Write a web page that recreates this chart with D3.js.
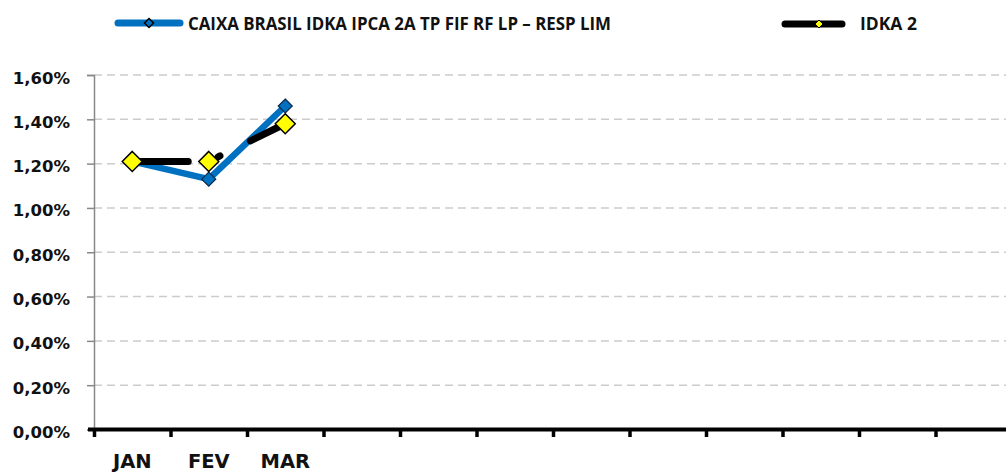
<!DOCTYPE html>
<html>
<head>
<meta charset="utf-8">
<script src="https://cdn.jsdelivr.net/npm/d3@7"></script>
<style>
  body { margin: 0; background: #fff; }
  svg { display: block; }
</style>
</head>
<body>
<div id="chart"></div>
<script>
const months = ["JAN", "FEV", "MAR", "ABR", "MAI", "JUN", "JUL", "AGO", "SET", "OUT", "NOV", "DEZ"];
const monthLabels = ["JAN", "FEV", "MAR", "", "", "", "", "", "", "", "", ""];
const caixaValues = [0.0121, 0.0113, 0.0146];
const idkaValues = [0.0121, 0.0121, 0.0138];
const yTicks = [0, 0.002, 0.004, 0.006, 0.008, 0.010, 0.012, 0.014, 0.016];
const seriesNames = ["CAIXA BRASIL IDKA IPCA 2A TP FIF RF LP \u2013 RESP LIM", "IDKA 2"];

const W = 1006, H = 473;
const plotLeft = 94, plotBottom = 429.5, plotTop = 75;

const svg = d3.select("#chart")
    .append("svg")
    .attr("width", W)
    .attr("height", H);

const x = d3.scaleBand()
    .domain(months)
    .range([plotLeft, plotLeft + 76.5 * 12]);
const y = d3.scaleLinear()
    .domain([0, 0.016])
    .range([plotBottom, plotTop]);

const fmt = d => d3.format(".2f")(d * 100).replace(".", ",") + "%";
const diamond = r => `M0,${-r}L${r},0L0,${r}L${-r},0Z`;

// gridlines
svg.append("g")
    .selectAll("line")
    .data(yTicks.slice(1))
    .enter()
    .append("line")
    .attr("x1", plotLeft)
    .attr("x2", W)
    .attr("y1", d => y(d))
    .attr("y2", d => y(d))
    .attr("stroke", "#cccccc")
    .attr("stroke-width", 1.5)
    .attr("stroke-dasharray", "8,5");

// y axis
const yAxis = svg.append("g")
    .attr("transform", `translate(${plotLeft},0)`)
    .call(d3.axisLeft(y).tickValues(yTicks).tickFormat(fmt).tickSize(7).tickPadding(17));
yAxis.select(".domain").attr("stroke", "#888888").attr("stroke-width", 1.5);
yAxis.selectAll(".tick line").attr("stroke", "#888888").attr("stroke-width", 1.5);
yAxis.selectAll("text")
    .attr("font-family", "DejaVu Sans")
    .attr("font-weight", "bold")
    .attr("font-size", "16.5px")
    .attr("fill", "#111")
    .attr("dy", null)
    .attr("y", 8);

// x axis line and boundary ticks
svg.append("line")
    .attr("x1", plotLeft - 6)
    .attr("x2", W)
    .attr("y1", plotBottom)
    .attr("y2", plotBottom)
    .attr("stroke", "#000")
    .attr("stroke-width", 4);
svg.append("g")
    .selectAll("line")
    .data(months)
    .enter()
    .append("line")
    .attr("x1", d => x(d) + 0.5)
    .attr("x2", d => x(d) + 0.5)
    .attr("y1", plotBottom)
    .attr("y2", plotBottom + 7.5)
    .attr("stroke", "#000")
    .attr("stroke-width", 3.5);

const xAxis = svg.append("g")
    .attr("transform", `translate(0,${plotBottom})`)
    .call(d3.axisBottom(x).tickSize(0).tickFormat((d, i) => monthLabels[i]));
xAxis.select(".domain").remove();
xAxis.selectAll("text")
    .attr("dy", null)
    .attr("y", 38)
    .attr("font-family", "DejaVu Sans")
    .attr("font-weight", "bold")
    .attr("font-size", "19.5px")
    .attr("fill", "#111");

const cx = (d, i) => x(months[i]) + x.bandwidth() / 2;
const line = d3.line().x(cx).y(d => y(d));

// CAIXA series
svg.append("path")
    .datum(caixaValues)
    .attr("d", line)
    .attr("fill", "none")
    .attr("stroke", "#0070C0")
    .attr("stroke-width", 6.5)
    .attr("stroke-linejoin", "round");
svg.append("g")
    .selectAll("path")
    .data(caixaValues)
    .enter()
    .append("path")
    .attr("d", diamond(7))
    .attr("transform", (d, i) => `translate(${cx(d, i)},${y(d)})`)
    .attr("fill", "#0070C0")
    .attr("stroke", "#0b2a4a")
    .attr("stroke-width", 1.2);

// IDKA 2 series
svg.append("path")
    .datum(idkaValues)
    .attr("d", line)
    .attr("fill", "none")
    .attr("stroke", "#000")
    .attr("stroke-width", 7)
    .attr("stroke-linecap", "round")
    .attr("stroke-dasharray", "56,31,2,34");
svg.append("g")
    .selectAll("path")
    .data(idkaValues)
    .enter()
    .append("path")
    .attr("d", diamond(10))
    .attr("transform", (d, i) => `translate(${cx(d, i)},${y(d)})`)
    .attr("fill", "#FFFF00")
    .attr("stroke", "#000")
    .attr("stroke-width", 1.5);

// legend
const legend = svg.append("g");
legend.append("line")
    .attr("x1", 118).attr("x2", 180).attr("y1", 23).attr("y2", 23)
    .attr("stroke", "#0070C0").attr("stroke-width", 7).attr("stroke-linecap", "round");
legend.append("path")
    .attr("d", diamond(4.5))
    .attr("transform", "translate(149,23)")
    .attr("fill", "#0070C0").attr("stroke", "#000").attr("stroke-width", 1.5);
legend.append("text")
    .attr("x", 188).attr("y", 29.5)
    .attr("font-family", "Open Sans").attr("font-weight", "bold").attr("font-size", "17px")
    .attr("fill", "#111")
    .attr("textLength", 423).attr("lengthAdjust", "spacingAndGlyphs")
    .text(seriesNames[0]);
legend.append("line")
    .attr("x1", 785).attr("x2", 842).attr("y1", 24).attr("y2", 24)
    .attr("stroke", "#000").attr("stroke-width", 7).attr("stroke-linecap", "round");
legend.append("path")
    .attr("d", diamond(4))
    .attr("transform", "translate(819,24)")
    .attr("fill", "#FFFF00").attr("stroke", "#000").attr("stroke-width", 1);
legend.append("text")
    .attr("x", 860).attr("y", 29.5)
    .attr("font-family", "Open Sans").attr("font-weight", "bold").attr("font-size", "17px")
    .attr("fill", "#111")
    .attr("textLength", 57).attr("lengthAdjust", "spacingAndGlyphs")
    .text(seriesNames[1]);
</script>
</body>
</html>
